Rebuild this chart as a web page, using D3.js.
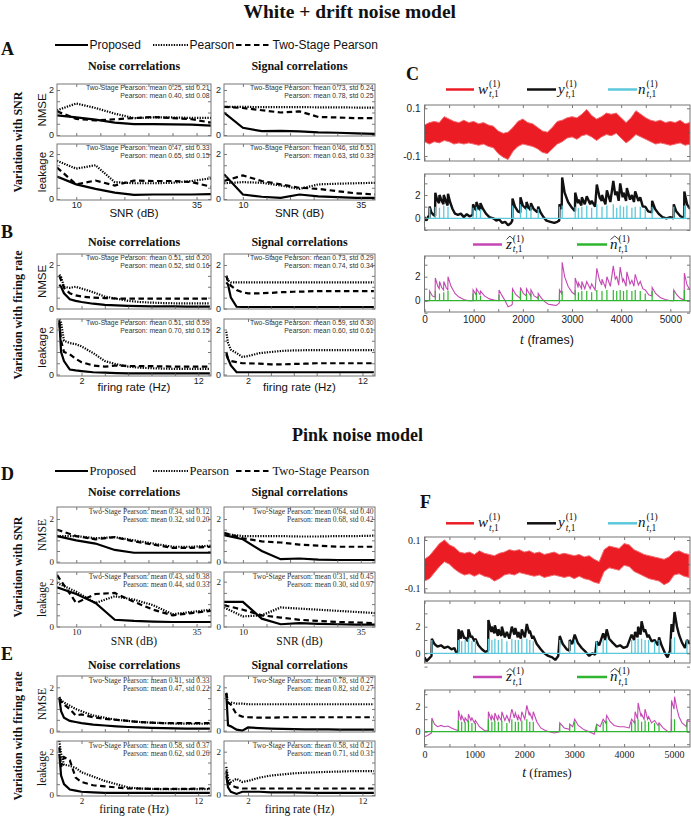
<!DOCTYPE html>
<html><head><meta charset="utf-8">
<script src="https://cdn.jsdelivr.net/npm/d3@7"></script>
<style>body{margin:0;background:#fff}svg{display:block}</style>
</head><body>
<script>
// ================= DATA =================
const snrDB = [6, 10, 14, 18, 22, 26, 30, 34, 38];
const rateHz = [0.1, 0.25, 0.5, 1, 1.5, 2, 3, 4, 5, 6, 7, 8, 9, 10, 11, 12, 13];
const snrTicks = [10, 15, 20, 25, 30, 35], snrTickLabels = [10, 35];
const rateTicks = [2, 4, 6, 8, 10, 12], rateTickLabels = [2, 12];
const metricTicks = [0, 0.5, 1, 1.5, 2], metricTickLabels = [0, 2];
const legendNames = ["Proposed", "Pearson", "Two-Stage Pearson"];

// Panel A (white + drift, SNR)
const A_noise_nmse = [[0.87,0.78,0.68,0.55,0.48,0.48,0.47,0.46,0.42],[1.1,1.4,1.2,0.95,0.75,0.78,0.78,0.76,0.76],[1.05,0.72,0.65,0.7,0.75,0.8,0.75,0.7,0.55]];
const A_noise_leak = [[1.0,0.65,0.45,0.28,0.18,0.2,0.2,0.2,0.22],[1.7,1.35,1.5,0.75,0.7,0.7,0.72,0.8,0.92],[1.4,0.65,0.82,0.6,0.82,0.8,0.8,0.75,0.55]];
const A_sig_nmse = [[1.0,0.32,0.17,0.18,0.16,0.12,0.1,0.07,0.05],[1.25,1.25,1.24,1.24,1.24,1.23,1.23,1.22,1.22],[1.25,1.2,1.1,1.0,1.05,0.8,0.78,0.75,0.75]];
const A_sig_leak = [[1.1,0.2,0.1,0.05,0.2,0.12,0.08,0.05,0.05],[0.7,0.75,0.72,0.6,0.45,0.65,0.68,0.7,0.72],[0.8,1.05,0.8,0.65,0.5,0.45,0.35,0.25,0.2]];
// Panel B (white + drift, firing rate)
const B_noise_nmse = [[1.1,1.0,0.7,0.42,0.35,0.3,0.22,0.17,0.14,0.12,0.11,0.1,0.1,0.1,0.09,0.09,0.09],[1.55,1.45,1.0,0.95,1.0,0.92,0.75,0.55,0.45,0.35,0.3,0.27,0.25,0.24,0.24,0.24,0.24],[1.5,1.3,0.95,0.7,0.6,0.55,0.5,0.48,0.46,0.45,0.45,0.45,0.45,0.45,0.45,0.45,0.45]];
const B_noise_leak = [[2.4,1.0,0.6,0.22,0.18,0.15,0.1,0.08,0.06,0.05,0.05,0.05,0.05,0.05,0.05,0.05,0.05],[2.45,2.3,1.5,1.4,1.35,1.25,0.95,0.6,0.45,0.35,0.3,0.28,0.26,0.25,0.25,0.25,0.25],[2.3,1.5,1.0,0.9,0.7,0.55,0.4,0.35,0.4,0.38,0.37,0.37,0.36,0.35,0.35,0.35,0.35]];
const B_sig_nmse = [[1.2,1.1,0.5,0.08,0.07,0.07,0.07,0.07,0.07,0.07,0.07,0.07,0.07,0.07,0.07,0.07,0.07],[1.5,1.3,1.2,1.2,1.2,1.2,1.2,1.2,1.2,1.2,1.2,1.2,1.2,1.2,1.2,1.2,1.2],[1.5,1.25,1.05,0.85,0.75,0.7,0.7,0.72,0.75,0.77,0.78,0.8,0.8,0.8,0.8,0.8,0.8]];
const B_sig_leak = [[1.0,0.7,0.4,0.1,0.1,0.1,0.1,0.1,0.1,0.1,0.1,0.1,0.1,0.1,0.1,0.1,0.1],[1.9,1.4,1.1,0.95,0.78,0.82,0.95,1.0,1.05,1.07,1.08,1.08,1.08,1.08,1.08,1.08,1.08],[0.9,0.7,0.6,0.55,0.5,0.5,0.48,0.45,0.45,0.47,0.48,0.5,0.5,0.5,0.5,0.5,0.5]];
// Panel D (pink, SNR)
const D_noise_nmse = [[1.2,1.0,0.85,0.55,0.42,0.42,0.42,0.42,0.42],[1.2,1.2,1.1,1.15,1.0,0.85,0.7,0.7,0.75],[1.5,1.2,1.05,1.15,0.95,0.8,0.65,0.65,0.7]];
const D_noise_leak = [[1.75,1.45,1.05,0.3,0.25,0.22,0.2,0.2,0.2],[1.95,1.55,1.05,1.35,1.2,0.95,0.55,0.65,0.75],[2.3,1.05,1.45,1.5,1.1,0.75,0.5,0.6,0.7]];
const D_sig_nmse = [[1.25,1.05,0.5,0.12,0.15,0.1,0.08,0.08,0.08],[1.3,1.2,1.2,1.2,1.18,1.18,1.2,1.2,1.22],[1.35,1.1,0.95,0.9,0.8,0.75,0.7,0.7,0.7]];
const D_sig_leak = [[1.1,1.1,0.35,0.1,0.15,0.12,0.1,0.08,0.08],[0.85,0.45,0.5,0.85,0.8,0.75,0.7,0.65,0.6],[0.95,0.75,0.5,0.4,0.3,0.25,0.2,0.18,0.15]];
// Panel E (pink, firing rate)
const E_noise_nmse = [[1.5,0.9,0.6,0.45,0.4,0.35,0.28,0.24,0.2,0.17,0.15,0.13,0.12,0.11,0.1,0.1,0.1],[1.55,1.4,1.3,1.15,1.0,0.9,0.7,0.6,0.5,0.45,0.4,0.37,0.35,0.33,0.32,0.32,0.32],[1.5,1.35,1.2,1.0,0.7,0.75,0.62,0.55,0.5,0.45,0.4,0.37,0.35,0.35,0.35,0.35,0.35]];
const E_noise_leak = [[1.9,0.9,0.5,0.25,0.2,0.15,0.12,0.1,0.1,0.1,0.1,0.1,0.1,0.1,0.1,0.1,0.1],[2.5,1.9,1.4,1.35,1.25,1.05,0.85,0.65,0.5,0.35,0.3,0.28,0.27,0.27,0.27,0.27,0.27],[2.2,1.3,1.75,1.6,0.8,0.6,0.45,0.4,0.35,0.3,0.3,0.28,0.28,0.28,0.28,0.3,0.3]];
const E_sig_nmse = [[1.7,0.25,0.2,0.05,0.0,0.15,0.12,0.1,0.08,0.07,0.06,0.06,0.06,0.05,0.05,0.05,0.05],[1.7,1.25,1.3,1.25,1.25,1.22,1.22,1.22,1.22,1.22,1.22,1.22,1.22,1.22,1.22,1.22,1.22],[1.75,1.3,1.2,0.75,0.65,0.62,0.6,0.6,0.62,0.62,0.62,0.62,0.62,0.62,0.62,0.62,0.62]];
const E_sig_leak = [[0.9,0.35,0.15,0.05,0.15,0.15,0.15,0.12,0.12,0.12,0.11,0.1,0.1,0.1,0.1,0.1,0.1],[1.3,0.8,0.6,0.75,0.6,0.65,0.8,0.9,0.95,1.0,1.03,1.05,1.07,1.08,1.1,1.1,1.1],[1.1,0.6,0.45,0.35,0.3,0.3,0.3,0.3,0.3,0.3,0.3,0.3,0.3,0.3,0.3,0.3,0.3]];

// annotation texts
const notes = {
  A: [["Two-Stage Pearson: mean 0.25, std 0.21","Pearson: mean 0.40, std 0.08"],["Two-Stage Pearson: mean 0.47, std 0.33","Pearson: mean 0.65, std 0.15"],["Two-Stage Pearson: mean 0.73, std 0.24","Pearson: mean 0.78, std 0.25"],["Two-Stage Pearson: mean 0.46, std 0.51","Pearson: mean 0.63, std 0.33"]],
  B: [["Two-Stage Pearson: mean 0.51, std 0.20","Pearson: mean 0.52, std 0.16"],["Two-Stage Pearson: mean 0.51, std 0.59","Pearson: mean 0.70, std 0.15"],["Two-Stage Pearson: mean 0.73, std 0.29","Pearson: mean 0.74, std 0.34"],["Two-Stage Pearson: mean 0.59, std 0.30","Pearson: mean 0.60, std 0.61"]],
  D: [["Two-Stage Pearson: mean 0.34, std 0.12","Pearson: mean 0.32, std 0.20"],["Two-Stage Pearson: mean 0.43, std 0.38","Pearson: mean 0.44, std 0.33"],["Two-Stage Pearson: mean 0.64, std 0.40","Pearson: mean 0.68, std 0.42"],["Two-Stage Pearson: mean 0.31, std 0.45","Pearson: mean 0.30, std 0.97"]],
  E: [["Two-Stage Pearson: mean 0.41, std 0.33","Pearson: mean 0.47, std 0.22"],["Two-Stage Pearson: mean 0.58, std 0.37","Pearson: mean 0.62, std 0.26"],["Two-Stage Pearson: mean 0.78, std 0.27","Pearson: mean 0.82, std 0.27"],["Two-Stage Pearson: mean 0.58, std 0.21","Pearson: mean 0.71, std 0.31"]]
};

// Time series: frames axis
const frameTicks = [0,500,1000,1500,2000,2500,3000,3500,4000,4500,5000];
const frameTickLabels = [0,1000,2000,3000,4000,5000];

// Panel C (white + drift noise)
const C_wFrames = [0,100,200,300,400,500,600,700,800,900,1000,1100,1200,1300,1400,1500,1600,1700,1800,1900,2000,2100,2200,2300,2400,2500,2600,2700,2800,2900,3000,3100,3200,3300,3400,3500,3600,3700,3800,3900,4000,4100,4200,4300,4400,4500,4600,4700,4800,4900,5000,5100,5200,5300,5400];
const C_wHi = [0.03,0.04,0.045,0.04,0.065,0.055,0.045,0.04,0.05,0.04,0.045,0.035,0.04,0.03,0.025,0.005,-0.005,0.0,0.02,0.045,0.055,0.04,0.035,0.02,0.005,0.0,0.02,0.045,0.05,0.06,0.065,0.06,0.075,0.095,0.07,0.055,0.065,0.08,0.075,0.08,0.06,0.04,0.06,0.09,0.075,0.06,0.05,0.045,0.05,0.04,0.045,0.04,0.05,0.035,0.04];
const C_wLo = [-0.04,-0.05,-0.04,-0.045,-0.035,-0.04,-0.05,-0.045,-0.05,-0.045,-0.05,-0.055,-0.05,-0.06,-0.065,-0.09,-0.105,-0.115,-0.08,-0.06,-0.05,-0.055,-0.06,-0.07,-0.085,-0.09,-0.07,-0.05,-0.04,-0.025,-0.02,-0.03,-0.015,-0.01,-0.02,-0.035,-0.02,-0.01,-0.015,-0.005,-0.025,-0.045,-0.03,-0.01,-0.02,-0.03,-0.04,-0.05,-0.045,-0.05,-0.055,-0.05,-0.045,-0.055,-0.05];
const C_y = [[0,0.1],[40,-0.2],[80,0.2],[100,0.0],[105,1.0],[140,0.5],[180,0.3],[215,0.2],[220,2.2],[255,1.6],[295,1.3],[305,2.0],[350,1.5],[385,1.2],[392,2.0],[440,1.4],[470,1.1],[478,2.1],[520,1.4],[570,0.8],[620,0.4],[680,0.3],[740,0.4],[800,0.1],[860,0.35],[920,0.15],[980,0.3],[988,1.2],[1030,0.8],[1052,0.7],[1056,1.4],[1100,0.9],[1132,0.7],[1138,1.3],[1190,0.8],[1250,0.4],[1320,0.1],[1400,0.0],[1460,-0.2],[1520,-0.1],[1580,-0.4],[1640,-0.3],[1700,-0.6],[1760,-0.4],[1785,-0.2],[1790,1.7],[1840,1.0],[1900,0.6],[1948,0.5],[1952,1.8],[2000,1.1],[2070,0.8],[2075,1.4],[2120,0.9],[2160,0.7],[2165,1.3],[2220,0.8],[2300,0.5],[2313,1.0],[2360,0.5],[2420,0.1],[2480,-0.2],[2560,-0.3],[2640,-0.4],[2700,-0.3],[2740,-0.2],[2745,1.2],[2790,0.8],[2800,3.5],[2850,2.2],[2920,1.4],[3000,0.9],[3060,0.6],[3065,2.2],[3120,1.3],[3130,1.6],[3190,1.1],[3200,1.8],[3260,1.2],[3300,1.9],[3370,1.2],[3400,1.5],[3470,1.0],[3505,2.9],[3560,1.8],[3605,1.5],[3610,2.0],[3680,1.2],[3710,2.4],[3780,1.4],[3840,3.2],[3880,2.0],[3910,2.3],[3950,1.5],[3980,3.0],[4030,1.8],[4048,2.2],[4100,1.5],[4116,2.6],[4180,1.6],[4218,2.0],[4260,1.4],[4286,2.3],[4350,1.5],[4388,1.8],[4440,1.0],[4490,1.0],[4550,0.6],[4626,0.5],[4630,1.5],[4690,0.8],[4760,0.4],[4840,0.1],[4920,0.0],[5000,0.1],[5065,0.0],[5070,1.2],[5120,0.6],[5200,0.2],[5280,0.0],[5285,2.3],[5340,1.2],[5400,0.8]];
const C_n = [[105,0.9],[220,1.0],[305,0.9],[392,1.1],[478,1.0],[988,0.9],[1056,1.0],[1138,0.8],[1790,1.1],[1952,1.2],[2075,0.9],[2165,1.0],[2313,0.8],[2745,1.0],[2800,1.1],[3065,1.0],[3130,0.9],[3200,1.0],[3300,1.1],[3400,0.9],[3505,1.2],[3610,1.0],[3710,1.1],[3840,1.2],[3910,0.9],[3980,1.1],[4048,1.0],[4116,1.1],[4218,0.9],[4286,1.0],[4388,1.0],[4490,0.8],[4630,1.0],[5070,1.0],[5285,1.1]];
const C_z = [[0,0],[100,0],[105,0.8],[160,0.4],[215,0.3],[220,1.9],[270,1.2],[300,1.0],[305,1.6],[350,1.1],[388,0.9],[392,1.6],[440,1.1],[474,0.9],[478,2.0],[540,1.2],[620,0.6],[700,0.3],[800,0.1],[900,0.0],[985,0.0],[988,0.9],[1050,0.5],[1056,1.0],[1130,0.5],[1138,0.8],[1220,0.4],[1320,0.15],[1420,0.05],[1512,0.0],[1516,0.9],[1580,0.4],[1640,0.0],[1700,-0.5],[1760,-0.4],[1786,-0.3],[1790,1.0],[1860,0.5],[1948,0.2],[1952,1.1],[2010,0.6],[2072,0.4],[2075,1.0],[2130,0.6],[2160,0.4],[2165,0.9],[2230,0.4],[2310,0.2],[2313,0.6],[2380,0.2],[2450,-0.1],[2520,-0.3],[2600,-0.35],[2680,-0.4],[2742,-0.2],[2745,0.9],[2790,0.6],[2800,3.2],[2850,2.0],[2920,1.2],[3000,0.7],[3062,0.5],[3065,1.9],[3125,1.1],[3130,1.5],[3195,1.0],[3200,1.6],[3260,1.0],[3300,1.6],[3370,1.0],[3400,1.4],[3470,0.9],[3505,2.7],[3560,1.7],[3605,1.3],[3610,1.8],[3680,1.1],[3710,2.0],[3780,1.2],[3840,2.9],[3880,1.8],[3910,2.0],[3950,1.3],[3980,2.8],[4030,1.6],[4048,1.8],[4100,1.2],[4116,2.4],[4180,1.4],[4218,1.7],[4260,1.2],[4286,2.2],[4350,1.3],[4388,1.6],[4440,1.0],[4490,0.9],[4560,0.5],[4626,0.4],[4630,1.1],[4700,0.6],[4800,0.25],[4900,0.1],[5000,0.0],[5066,0.0],[5070,0.9],[5130,0.5],[5200,0.2],[5282,0.05],[5285,2.3],[5340,1.3],[5400,0.9]];
const C_nhat = [[105,0.7],[220,0.8],[305,0.6],[392,0.7],[478,0.8],[988,0.6],[1056,0.7],[1138,0.4],[1516,0.5],[1790,0.7],[1952,0.8],[2075,0.6],[2165,0.6],[2313,0.4],[2745,0.6],[2800,0.8],[3065,0.9],[3130,0.7],[3200,0.8],[3300,0.8],[3400,0.7],[3505,0.9],[3610,0.8],[3710,0.9],[3840,0.9],[3910,0.8],[3980,0.9],[4048,0.8],[4116,0.9],[4218,0.8],[4286,0.9],[4388,0.8],[4490,0.6],[4630,0.8],[5070,0.8],[5285,0.9]];

// Panel F (pink noise)
const F_wFrames = [0,100,200,300,400,500,600,700,800,900,1000,1100,1200,1300,1400,1500,1600,1700,1800,1900,2000,2100,2200,2300,2400,2500,2600,2700,2800,2900,3000,3100,3200,3300,3400,3500,3600,3700,3800,3900,4000,4100,4200,4300,4400,4500,4600,4700,4800,4900,5000,5100,5200,5300];
const F_wHi = [0.02,0.035,0.06,0.085,0.1,0.08,0.07,0.05,0.045,0.05,0.04,0.055,0.045,0.04,0.035,0.045,0.05,0.06,0.055,0.06,0.05,0.055,0.045,0.05,0.04,0.045,0.05,0.04,0.045,0.04,0.035,0.04,0.03,0.035,0.02,0.01,0.06,0.075,0.07,0.065,0.085,0.08,0.06,0.05,0.04,0.035,0.03,0.025,0.02,0.03,0.05,0.055,0.045,0.04];
const F_wLo = [-0.07,-0.06,-0.035,-0.01,0.01,0.0,-0.02,-0.035,-0.045,-0.04,-0.05,-0.04,-0.05,-0.055,-0.07,-0.06,-0.045,-0.04,-0.045,-0.035,-0.04,-0.045,-0.05,-0.045,-0.055,-0.05,-0.045,-0.05,-0.055,-0.05,-0.06,-0.05,-0.06,-0.065,-0.075,-0.08,-0.03,-0.015,-0.02,-0.025,-0.005,-0.01,-0.03,-0.04,-0.05,-0.06,-0.065,-0.07,-0.085,-0.075,-0.045,-0.04,-0.05,-0.055];
const F_y = [[0,-0.3],[40,-0.6],[90,-0.4],[140,-0.2],[147,1.1],[200,0.7],[260,0.5],[330,0.6],[400,0.4],[470,0.5],[540,0.3],[600,0.4],[640,0.0],[675,0.1],[680,1.8],[730,1.1],[745,1.7],[800,1.1],[815,1.2],[870,0.9],[880,1.8],[930,1.2],[950,1.3],[1000,0.9],[1020,1.1],[1080,0.6],[1150,0.3],[1220,0.1],[1275,0.2],[1280,2.5],[1340,1.6],[1350,2.0],[1400,1.5],[1410,2.1],[1470,1.3],[1480,1.8],[1540,1.3],[1550,2.0],[1610,1.2],[1650,1.6],[1700,1.1],[1750,2.0],[1800,1.4],[1820,1.9],[1870,1.2],[1880,1.6],[1930,1.1],[1950,1.8],[2010,1.2],[2050,2.2],[2100,1.5],[2110,1.7],[2160,1.1],[2180,1.3],[2250,0.7],[2330,0.3],[2400,0.0],[2480,-0.2],[2560,-0.3],[2620,-0.5],[2680,-0.2],[2710,1.3],[2770,0.7],[2850,0.3],[2905,0.2],[2910,1.0],[2960,0.7],[3010,1.4],[3070,0.8],[3150,0.4],[3230,0.1],[3300,-0.2],[3360,0.0],[3420,-0.1],[3450,0.9],[3500,0.6],[3580,1.5],[3620,1.0],[3650,1.8],[3700,1.1],[3770,0.8],[3850,0.5],[3920,0.6],[3990,0.4],[4060,0.5],[4150,1.4],[4200,1.0],[4220,1.6],[4270,1.2],[4280,2.0],[4330,1.4],[4350,2.4],[4400,1.6],[4420,1.8],[4470,1.2],[4490,1.4],[4550,0.9],[4610,1.0],[4680,0.6],[4700,1.2],[4750,0.6],[4820,0.0],[4870,-0.3],[4920,0.2],[4950,2.2],[4980,1.6],[5010,3.1],[5060,2.0],[5100,1.4],[5160,0.8],[5220,0.4],[5260,1.0],[5320,0.7]];
const F_n = [[147,1.0],[680,1.0],[745,0.9],[815,1.0],[880,1.1],[950,0.9],[1020,1.0],[1280,1.1],[1350,1.0],[1410,1.1],[1480,1.0],[1550,1.1],[1650,0.9],[1750,1.1],[1820,1.0],[1880,1.0],[1950,1.1],[2050,1.1],[2110,1.0],[2180,0.9],[2710,1.0],[2910,0.9],[3010,1.0],[3450,0.9],[3580,1.0],[3650,1.1],[4150,1.0],[4220,1.0],[4280,1.1],[4350,1.1],[4420,1.0],[4490,1.0],[4610,0.9],[4700,1.0],[4950,1.1],[5010,1.2],[5260,1.0]];
const F_z = [[0,-0.4],[60,-0.3],[140,-0.1],[147,1.1],[200,0.6],[260,0.4],[330,0.5],[400,0.4],[470,0.45],[540,0.3],[620,0.15],[675,0.1],[680,1.7],[730,0.9],[745,1.3],[800,0.8],[815,1.1],[870,0.8],[880,1.4],[930,0.9],[950,1.1],[1000,0.7],[1020,0.9],[1100,0.4],[1200,0.1],[1275,0.05],[1280,1.6],[1340,0.9],[1350,1.3],[1400,0.9],[1410,1.5],[1470,0.9],[1480,1.3],[1540,0.9],[1550,1.6],[1610,0.9],[1650,1.3],[1700,0.8],[1750,1.8],[1800,1.1],[1820,1.5],[1870,0.9],[1880,1.3],[1930,0.9],[1950,1.6],[2010,1.0],[2050,2.1],[2100,1.3],[2110,1.5],[2160,1.0],[2180,1.6],[2250,0.8],[2330,0.3],[2420,0.1],[2500,0.0],[2600,-0.1],[2700,0.0],[2710,0.7],[2800,0.3],[2905,0.2],[2910,0.6],[2970,0.4],[3010,1.0],[3080,0.5],[3200,0.15],[3300,0.0],[3400,-0.2],[3450,0.6],[3520,0.4],[3580,1.0],[3630,0.7],[3650,1.3],[3720,0.8],[3800,0.5],[3900,0.4],[4000,0.4],[4100,0.3],[4150,1.0],[4210,0.7],[4220,1.6],[4270,1.0],[4280,2.3],[4340,1.2],[4350,1.4],[4400,1.0],[4420,1.8],[4470,1.0],[4490,1.2],[4550,0.7],[4610,0.9],[4680,0.5],[4700,0.7],[4780,0.3],[4880,0.0],[4940,0.0],[4950,2.5],[5000,1.8],[5010,2.8],[5060,1.8],[5100,1.2],[5160,0.7],[5250,0.4],[5260,0.9],[5320,0.8]];
const F_nhat = [[147,0.9],[680,0.9],[745,0.8],[815,0.8],[880,0.9],[950,0.7],[1020,0.7],[1280,1.0],[1350,0.8],[1410,0.9],[1480,0.8],[1550,0.9],[1650,0.7],[1750,1.0],[1820,0.8],[1880,0.8],[1950,0.9],[2050,1.0],[2110,0.8],[2180,0.8],[2710,0.6],[2910,0.5],[3010,0.8],[3450,0.6],[3580,0.8],[3650,0.9],[4150,0.8],[4220,0.9],[4280,1.0],[4350,0.8],[4420,0.9],[4490,0.8],[4610,0.7],[4700,0.6],[4950,1.0],[5010,1.0],[5260,0.8]];

// ================= DRAWING =================
const SANS = "'Liberation Sans', Arial, sans-serif";
const SERIF = "'Liberation Serif', 'Times New Roman', serif";
const DASH = [null, "1.3,1.3", "5.5,3.5"];
const svg = d3.select("body").append("svg").attr("width", 691).attr("height", 816);
let clipN = 0;
function makeClip(x0, y0, x1, y1) {
  const id = "clp" + (clipN++);
  svg.append("clipPath").attr("id", id).append("rect").attr("x", x0).attr("y", y0).attr("width", x1 - x0).attr("height", y1 - y0);
  return `url(#${id})`;
}
function txt(x, y, s, o = {}) {
  return svg.append("text").attr("x", x).attr("y", y).attr("font-family", o.font || SANS)
    .attr("font-size", o.size || 12).attr("font-weight", o.weight || "normal")
    .attr("font-style", o.style || "normal").attr("text-anchor", o.anchor || "start")
    .attr("fill", o.fill || "#111").text(s);
}
function rotTxt(x, y, s, o = {}) {
  svg.append("text").attr("transform", `translate(${x},${y}) rotate(-90)`).attr("text-anchor", "middle")
    .attr("font-family", o.font || SANS).attr("font-size", o.size || 12).attr("font-weight", o.weight || "normal")
    .attr("fill", "#111").text(s);
}
function boxAxes(xs, ys, box, o) {
  const g = svg.append("g");
  const fmtX = d => o.xLabels.includes(d) ? String(d) : "";
  const fmtY = d => o.yLabels.includes(d) ? (o.yFmt ? o.yFmt(d) : String(d)) : "";
  if (o.showX !== false) {
    g.append("g").attr("transform", `translate(0,${box.y1})`)
      .call(d3.axisBottom(xs).tickValues(o.xTicks).tickSize(-3).tickPadding(o.xPad || 3).tickFormat(fmtX));
  } else {
    g.append("g").attr("transform", `translate(0,${box.y1})`)
      .call(d3.axisBottom(xs).tickValues(o.xTicks).tickSize(-3).tickFormat(""));
  }
  g.append("g").attr("transform", `translate(0,${box.y0})`)
    .call(d3.axisTop(xs).tickValues(o.xTicks).tickSize(-3).tickFormat(""));
  g.append("g").attr("transform", `translate(${box.x0},0)`)
    .call(d3.axisLeft(ys).tickValues(o.yTicks).tickSize(-3).tickPadding(o.yPad || 4).tickFormat(fmtY));
  g.append("g").attr("transform", `translate(${box.x1},0)`)
    .call(d3.axisRight(ys).tickValues(o.yTicks).tickSize(-3).tickFormat(""));
  g.selectAll(".domain").remove();
  g.selectAll(".tick line").attr("stroke", "#555").attr("stroke-width", 0.8);
  g.selectAll(".tick text").attr("font-family", o.font).attr("font-size", o.fs).attr("fill", "#222");
  g.append("rect").attr("x", box.x0).attr("y", box.y0).attr("width", box.x1 - box.x0).attr("height", box.y1 - box.y0)
    .attr("fill", "none").attr("stroke", "#777").attr("stroke-width", 1);
  return g;
}

function linePanel(box, xVals, xDomain, p0, p2, series, note, cfg) {
  const xs = d3.scaleLinear().domain(xDomain).range([box.x0, box.x1]);
  const ys = d3.scaleLinear().domain([0, 2]).range([p0, p2]);
  const cp = makeClip(box.x0, box.y0, box.x1, box.y1);
  const gl = svg.append("g").attr("clip-path", cp);
  const line = d3.line().x((d, i) => xs(xVals[i])).y(d => ys(d));
  note.forEach((t, i) => txt(box.x1 - 1.5, box.y0 + cfg.noteY0 + i * cfg.noteDy, t, { font: cfg.font, size: cfg.noteFs, anchor: "end", fill: "#333" }));
  [2, 1, 0].forEach(k => {
    gl.append("path").attr("d", line(series[k])).attr("fill", "none").attr("stroke", "#000")
      .attr("stroke-width", 2.2).attr("stroke-dasharray", DASH[k]);
  });
  boxAxes(xs, ys, box, { xTicks: cfg.xTicks, xLabels: cfg.xLabels, yTicks: metricTicks, yLabels: metricTickLabels,
    font: cfg.font, fs: cfg.tickFs, showX: cfg.showX, xPad: 2, yPad: 3 });
}

function legendRow(y, font, size) {
  const segs = [[55, 88], [153, 188], [236, 271]];
  segs.forEach((s, k) => {
    svg.append("line").attr("x1", s[0]).attr("x2", s[1]).attr("y1", y).attr("y2", y)
      .attr("stroke", "#000").attr("stroke-width", 2.2).attr("stroke-dasharray", DASH[k]);
    txt(s[1] + 1.5, y + 4.3, legendNames[k], { font, size });
  });
}

function section(cfg) {
  const NX = { x0: 57, x1: 211 }, SX = { x0: 224, x1: 375 };
  const r1 = cfg.snr, r2 = cfg.rate;
  [[r1, snrDB, [6, 38], snrTicks, snrTickLabels, "SNR (dB)"], [r2, rateHz, [-0.1, 13.1], rateTicks, rateTickLabels, "firing rate (Hz)"]]
    .forEach(([r, xv, dom, xt, xl, xTitle]) => {
      txt(1, r.letterY, r.letter, { font: SERIF, size: 18, weight: "bold" });
      txt(134, r.titleY, "Noise correlations", { font: SERIF, size: 12, weight: "bold", anchor: "middle" });
      txt(299.5, r.titleY, "Signal correlations", { font: SERIF, size: 12, weight: "bold", anchor: "middle" });
      rotTxt(22, (r.nm.y0 + r.lk.y1) / 2, r.rowLabel, { font: SERIF, size: 12, weight: "bold" });
      rotTxt(46, (r.nm.y0 + r.nm.y1) / 2, "NMSE", { font: cfg.font, size: 11.5 });
      rotTxt(46, (r.lk.y0 + r.lk.y1) / 2, "leakage", { font: cfg.font, size: 11.5 });
      const c = { font: cfg.font, noteFs: cfg.noteFs, noteY0: cfg.noteY0, noteDy: cfg.noteDy, tickFs: 9, xTicks: xt, xLabels: xl };
      linePanel({ ...NX, y0: r.nm.y0, y1: r.nm.y1 }, xv, dom, r.nm.p0, r.nm.p2, r.data[0], r.notes[0], { ...c, showX: false });
      linePanel({ ...NX, y0: r.lk.y0, y1: r.lk.y1 }, xv, dom, r.lk.p0, r.lk.p2, r.data[1], r.notes[1], c);
      linePanel({ ...SX, y0: r.nm.y0, y1: r.nm.y1 }, xv, dom, r.nm.p0, r.nm.p2, r.data[2], r.notes[2], { ...c, showX: false });
      linePanel({ ...SX, y0: r.lk.y0, y1: r.lk.y1 }, xv, dom, r.lk.p0, r.lk.p2, r.data[3], r.notes[3], c);
      txt(134, r.xTitleY, xTitle, { font: cfg.font, size: 11.5, anchor: "middle" });
      txt(299.5, r.xTitleY, xTitle, { font: cfg.font, size: 11.5, anchor: "middle" });
    });
}

// ---------- Titles ----------
txt(456, 18, "White + drift noise model", { font: SERIF, size: 19.5, weight: "bold", anchor: "end" });
txt(292, 441, "Pink noise model", { font: SERIF, size: 18, weight: "bold", anchor: "start" });

legendRow(45, SANS, 12);
legendRow(471, SERIF, 12.5);

section({ font: SANS, noteFs: 6.8, noteY0: 6.4, noteDy: 7.6,
  snr: { letter: "A", letterY: 55, titleY: 70, rowLabel: "Variation with SNR", xTitleY: 217,
    nm: { y0: 84, y1: 136, p0: 135, p2: 90 }, lk: { y0: 144, y1: 200, p0: 199, p2: 154 },
    data: [A_noise_nmse, A_noise_leak, A_sig_nmse, A_sig_leak], notes: notes.A },
  rate: { letter: "B", letterY: 238, titleY: 246, rowLabel: "Variation with firing rate", xTitleY: 391,
    nm: { y0: 254, y1: 309, p0: 308.5, p2: 265 }, lk: { y0: 319, y1: 376, p0: 374.5, p2: 329.5 },
    data: [B_noise_nmse, B_noise_leak, B_sig_nmse, B_sig_leak], notes: notes.B }
});
section({ font: SERIF, noteFs: 7.5, noteY0: 6.6, noteDy: 8.2,
  snr: { letter: "D", letterY: 480, titleY: 496, rowLabel: "Variation with SNR", xTitleY: 645,
    nm: { y0: 507, y1: 563, p0: 561.7, p2: 519 }, lk: { y0: 572, y1: 627, p0: 626.5, p2: 581.7 },
    data: [D_noise_nmse, D_noise_leak, D_sig_nmse, D_sig_leak], notes: notes.D },
  rate: { letter: "E", letterY: 660, titleY: 669, rowLabel: "Variation with firing rate", xTitleY: 813,
    nm: { y0: 676, y1: 732, p0: 730.7, p2: 687.3 }, lk: { y0: 741, y1: 796, p0: 795, p2: 751.7 },
    data: [E_noise_nmse, E_noise_leak, E_sig_nmse, E_sig_leak], notes: notes.E }
});

// ---------- Time series panels ----------
function mathSym(x, y, base, hat) {
  const t = txt(x, y, base, { font: SERIF, size: 15, style: "italic" });
  const w = t.node().getComputedTextLength();
  if (hat) {
    svg.append("path").attr("d", `M${x + 0.5},${y - 9} L${x + w / 2 + 1},${y - 12.5} L${x + w + 1.5},${y - 9}`)
      .attr("fill", "none").attr("stroke", "#111").attr("stroke-width", 0.8);
  }
  txt(x + w + 1, y - 7, "(1)", { font: SERIF, size: 9.5 });
  const s = svg.append("text").attr("x", x + w + 1).attr("y", y + 3.5).attr("font-family", SERIF).attr("font-size", 9.5).attr("fill", "#111");
  s.append("tspan").attr("font-style", "italic").text("t");
  s.append("tspan").text(",1");
}
function legLine(x0, x1, y, color) {
  svg.append("line").attr("x1", x0).attr("x2", x1).attr("y1", y).attr("y2", y).attr("stroke", color).attr("stroke-width", 2.5);
}
function spikePath(spikes, tMax) {
  const pts = [[0, 0]];
  spikes.forEach(([t, h]) => { pts.push([t, 0], [t, h], [t, 0]); });
  pts.push([tMax, 0]);
  return pts;
}
const RED = "#ec1c24", CYAN = "#5cc8dc", MAG = "#c447b4", GREEN = "#2fb52f";

function tsPanel(cfg) {
  const xs = d3.scaleLinear().domain([0, cfg.tMax]).range([cfg.x0, cfg.x1]);
  const X0 = cfg.x0, X1 = 690;
  txt(cfg.letterX, cfg.letterY, cfg.letter, { font: SERIF, size: 18, weight: "bold" });
  const ly = cfg.leg1Y;
  legLine(446, 474, ly, RED); mathSym(478, ly + 4, "w", false);
  legLine(527, 556, ly, "#111"); mathSym(558, ly + 4, "y", false);
  legLine(608, 637, ly, CYAN); mathSym(638, ly + 4, "n", false);
  // w panel
  const wb = { x0: X0, x1: X1, y0: cfg.w.y0, y1: cfg.w.y1 };
  const wy = d3.scaleLinear().domain([0.1, -0.1]).range(cfg.w.ref);
  const wcp = makeClip(wb.x0, wb.y0, wb.x1, wb.y1);
  const area = d3.area().x((d, i) => xs(cfg.wFrames[i])).y0((d, i) => wy(cfg.wLo[i])).y1(d => wy(d));
  svg.append("path").attr("clip-path", wcp).attr("d", area(cfg.wHi)).attr("fill", RED).attr("stroke", "#f26b6f")
    .attr("stroke-width", 1).attr("stroke-linejoin", "bevel");
  boxAxes(xs, wy, wb, { xTicks: frameTicks, xLabels: [], yTicks: [-0.1, 0, 0.1], yLabels: [-0.1, 0.1], yFmt: d => String(d),
    font: cfg.font, fs: 10, showX: false, yPad: 4 });
  // y panel
  const yb = { x0: X0, x1: X1, y0: cfg.y.y0, y1: cfg.y.y1 };
  const yy = d3.scaleLinear().domain([0, 2]).range(cfg.y.ref);
  const ycp = makeClip(yb.x0, yb.y0, yb.x1, yb.y1);
  const ln = d3.line().x(d => xs(d[0])).y(d => yy(d[1]));
  svg.append("path").attr("clip-path", ycp).attr("d", ln(cfg.yTrace)).attr("fill", "none").attr("stroke", "#111")
    .attr("stroke-width", 2.4).attr("stroke-linejoin", "bevel");
  svg.append("path").attr("clip-path", ycp).attr("d", ln(spikePath(cfg.n, cfg.tMax))).attr("fill", "none").attr("stroke", CYAN)
    .attr("stroke-width", 1.3);
  boxAxes(xs, yy, yb, { xTicks: frameTicks, xLabels: [], yTicks: [-1, 0, 1, 2, 3], yLabels: [0, 2],
    font: cfg.font, fs: 10, showX: false, yPad: 4 });
  // legend 2
  const l2 = cfg.leg2Y;
  legLine(473, 502, l2, MAG); mathSym(506, l2 + 4, "z", true);
  legLine(577, 607, l2, GREEN); mathSym(610, l2 + 4, "n", true);
  // z panel
  const zb = { x0: X0, x1: X1, y0: cfg.z.y0, y1: cfg.z.y1 };
  const zy = d3.scaleLinear().domain([0, 2]).range(cfg.z.ref);
  const zcp = makeClip(zb.x0, zb.y0, zb.x1, zb.y1);
  const lz = d3.line().x(d => xs(d[0])).y(d => zy(d[1]));
  svg.append("path").attr("clip-path", zcp).attr("d", lz(cfg.zTrace)).attr("fill", "none").attr("stroke", MAG).attr("stroke-width", 1.1);
  svg.append("path").attr("clip-path", zcp).attr("d", lz(spikePath(cfg.nhat, cfg.tMax))).attr("fill", "none").attr("stroke", GREEN).attr("stroke-width", 1.2);
  boxAxes(xs, zy, zb, { xTicks: frameTicks, xLabels: frameTickLabels, yTicks: [-1, 0, 1, 2, 3], yLabels: [0, 2],
    font: cfg.font, fs: 10, showX: true, xPad: 4, yPad: 4 });
  const xt = svg.append("text").attr("x", 547).attr("y", cfg.xTitleY).attr("text-anchor", "middle").attr("font-size", 12.5).attr("fill", "#111");
  xt.append("tspan").attr("font-family", SERIF).attr("font-style", "italic").attr("font-size", 14).text("t");
  xt.append("tspan").attr("font-family", cfg.font).text(" (frames)");
}

tsPanel({ letter: "C", letterX: 406, letterY: 80, font: SANS, tMax: 5400, x0: 424.5, x1: 690,
  leg1Y: 89.5, leg2Y: 244.5, xTitleY: 344,
  w: { y0: 105, y1: 161, ref: [108.3, 156] }, y: { y0: 174, y1: 230, ref: [218.3, 195] }, z: { y0: 256, y1: 312, ref: [300.7, 276.7] },
  wFrames: C_wFrames, wHi: C_wHi, wLo: C_wLo, yTrace: C_y, n: C_n, zTrace: C_z, nhat: C_nhat });
tsPanel({ letter: "F", letterX: 420, letterY: 508, font: SERIF, tMax: 5320, x0: 424.5, x1: 690,
  leg1Y: 523.3, leg2Y: 677, xTitleY: 777,
  w: { y0: 537, y1: 593, ref: [540, 588.3] }, y: { y0: 601, y1: 663, ref: [653.3, 626.7] }, z: { y0: 690, y1: 747, ref: [731.7, 706.7] },
  wFrames: F_wFrames, wHi: F_wHi, wLo: F_wLo, yTrace: F_y, n: F_n, zTrace: F_z, nhat: F_nhat });
</script>
</body></html>
